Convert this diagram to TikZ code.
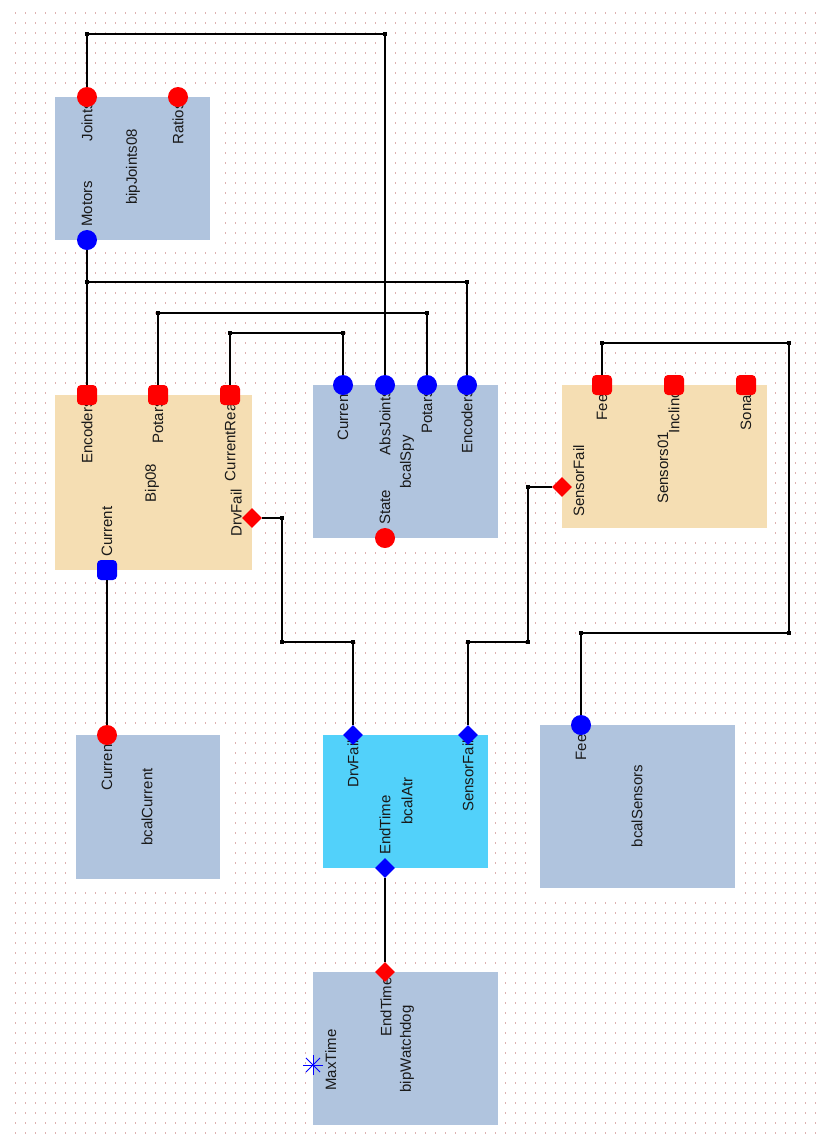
\documentclass[tikz,border=0pt]{standalone}
\usepackage{fontspec}
\setmainfont{Liberation Sans}
\usetikzlibrary{shapes.geometric}
\definecolor{griddot}{RGB}{222,178,178}
\definecolor{steel}{RGB}{176,196,222}
\definecolor{wheat}{RGB}{245,222,179}
\definecolor{skyatr}{RGB}{82,209,250}

\begin{document}
\begin{tikzpicture}[
    x=10pt, y=-10pt,
    every node/.style={font=\fontsize{15}{17}\selectfont, inner sep=0pt},
    block/.style={rectangle, preaction={draw=white, line width=12pt}},
    lbl/.style={rotate=90, text=black!90},
    portc/.style={circle, minimum size=20pt},
    ports/.style={rectangle, rounded corners=4pt, minimum size=20pt},
    portd/.style={diamond, aspect=1, minimum size=20pt},
    wire/.style={line width=1.2pt},
    jdot/.style={rectangle, fill=black, minimum size=3.5pt}
]

\useasboundingbox (0,0) rectangle (81.9,114.1);

% dotted grid
\foreach \gy in {0,...,112}
    \draw[griddot, line width=1.3pt, dash pattern=on 1.3pt off 8.7pt] (1.5,1.3+\gy) -- (81.6,1.3+\gy);

% Blocks
\node[block, fill=steel, minimum width=155pt, minimum height=143pt] (joints) at (13.25,16.85) {};
\node[block, fill=wheat, minimum width=197pt, minimum height=175pt] (bip) at (15.35,48.25) {};
\node[block, fill=steel, minimum width=185pt, minimum height=153pt] (spy) at (40.55,46.15) {};
\node[block, fill=wheat, minimum width=205pt, minimum height=143pt] (sens) at (66.45,45.65) {};
\node[block, fill=steel, minimum width=144pt, minimum height=144pt] (cur) at (14.8,80.7) {};
\node[block, fill=skyatr, minimum width=165pt, minimum height=133pt] (atr) at (40.55,80.15) {};
\node[block, fill=steel, minimum width=195pt, minimum height=163pt] (bsens) at (63.75,80.65) {};
\node[block, fill=steel, minimum width=185pt, minimum height=153pt] (dog) at (40.55,104.85) {};

% Block titles
\node[lbl] (tJoints) at (13.3,16.7) {bipJoints08};
\node[lbl] (tBip) at (15.2,48.3) {Bip08};
\node[lbl] (tSpy) at (40.7,46.2) {bcalSpy};
\node[lbl] (tSens) at (66.3,46.8) {Sensors01};
\node[lbl] (tCur) at (14.7,80.7) {bcalCurrent};
\node[lbl] (tAtr) at (40.7,80.1) {bcalAtr};
\node[lbl] (tBsens) at (63.7,80.6) {bcalSensors};
\node[lbl] (tDog) at (40.7,104.9) {bipWatchdog};

% Port labels - top side
\node[lbl, anchor=east] (lJoints) at (8.7,10.2) {Joints};
\node[lbl, anchor=east] (lRatios) at (17.8,10.2) {Ratios};
\node[lbl, anchor=east] (lEnc) at (8.7,40.0) {Encoders};
\node[lbl, anchor=east] (lPot) at (15.8,40.0) {Potars};
\node[lbl, anchor=east] (lCurRd) at (23.0,39.5) {CurrentRead};
\node[lbl, anchor=east] (lsCur) at (34.3,39.0) {Current};
\node[lbl, anchor=east] (lsAbs) at (38.5,39.0) {AbsJoints};
\node[lbl, anchor=east] (lsPot) at (42.7,39.0) {Potars};
\node[lbl, anchor=east] (lsEnc) at (46.7,39.0) {Encoders};
\node[lbl, anchor=east] (lnFeet) at (60.2,39.0) {Feet};
\node[lbl, anchor=east] (lnInc) at (67.4,39.0) {Inclino};
\node[lbl, anchor=east] (lnSon) at (74.6,39.0) {Sonar};
\node[lbl, anchor=east] (lcCur) at (10.7,74.0) {Current};
\node[lbl, anchor=east] (laDrv) at (35.3,74.0) {DrvFail};
\node[lbl, anchor=east] (laSen) at (46.8,74.0) {SensorFail};
\node[lbl, anchor=east] (leFeet) at (58.1,73.0) {Feet};
\node[lbl, anchor=east] (lwEnd) at (38.6,97.7) {EndTime};
% bottom side
\node[lbl, anchor=west] (lMotors) at (8.7,22.7) {Motors};
\node[lbl, anchor=west] (lbCur) at (10.7,55.7) {Current};
\node[lbl, anchor=west] (lState) at (38.5,52.5) {State};
\node[lbl, anchor=west] (laEnd) at (38.5,85.5) {EndTime};
% left / right side
\node[lbl, anchor=south] (lbDrv) at (24.2,51.3) {DrvFail};
\node[lbl, anchor=north] (lnFail) at (57.3,48.1) {SensorFail};
\node[lbl, anchor=north] (lMax) at (32.5,106.0) {MaxTime};

% Ports
\node[portc, fill=red] (jJoints) at (8.7,9.7) {};
\node[portc, fill=red] (jRatios) at (17.8,9.7) {};
\node[portc, fill=blue] (jMotors) at (8.7,24.0) {};
\node[ports, fill=red] (bEnc) at (8.7,39.5) {};
\node[ports, fill=red] (bPot) at (15.8,39.5) {};
\node[ports, fill=red] (bCurRd) at (23.0,39.5) {};
\node[ports, fill=blue] (bCur) at (10.7,57.0) {};
\node[portd, fill=red] (bDrv) at (25.2,51.8) {};
\node[portc, fill=blue] (sCur) at (34.3,38.5) {};
\node[portc, fill=blue] (sAbs) at (38.5,38.5) {};
\node[portc, fill=blue] (sPot) at (42.7,38.5) {};
\node[portc, fill=blue] (sEnc) at (46.7,38.5) {};
\node[portc, fill=red] (sState) at (38.5,53.8) {};
\node[ports, fill=red] (nFeet) at (60.2,38.5) {};
\node[ports, fill=red] (nInc) at (67.4,38.5) {};
\node[ports, fill=red] (nSon) at (74.6,38.5) {};
\node[portd, fill=red] (nFail) at (56.2,48.7) {};
\node[portc, fill=red] (cCur) at (10.7,73.5) {};
\node[portd, fill=blue] (aDrv) at (35.3,73.5) {};
\node[portd, fill=blue] (aSen) at (46.8,73.5) {};
\node[portd, fill=blue] (aEnd) at (38.5,86.8) {};
\node[portc, fill=blue] (eFeet) at (58.1,72.5) {};
\node[portd, fill=red] (wEnd) at (38.5,97.2) {};
\coordinate (wMax) at (31.3,106.5);
\foreach \a in {0,45,90,135}
    \draw[blue, line width=0.9pt] (wMax) +(\a:1) -- +(\a+180:1);

% Bends
\coordinate (k1) at (8.7,3.4);
\coordinate (k2) at (38.5,3.4);
\coordinate (k3) at (8.7,28.2);
\coordinate (k4) at (46.7,28.2);
\coordinate (k5) at (15.8,31.3);
\coordinate (k6) at (42.7,31.3);
\coordinate (k7) at (23.0,33.3);
\coordinate (k8) at (34.3,33.3);
\coordinate (k9) at (28.2,51.8);
\coordinate (k10) at (28.2,64.2);
\coordinate (k11) at (35.3,64.2);
\coordinate (k12) at (52.8,48.7);
\coordinate (k13) at (52.8,64.2);
\coordinate (k14) at (46.8,64.2);
\coordinate (k15) at (60.2,34.3);
\coordinate (k16) at (78.9,34.3);
\coordinate (k17) at (78.9,63.3);
\coordinate (k18) at (58.1,63.3);

% Wires
\draw[wire] (jJoints) -- (k1) -- (k2) -- (sAbs);
\draw[wire] (jMotors) -- (bEnc);
\draw[wire] (k3) -- (k4) -- (sEnc);
\draw[wire] (bPot) -- (k5) -- (k6) -- (sPot);
\draw[wire] (bCurRd) -- (k7) -- (k8) -- (sCur);
\draw[wire] (bDrv) -- (k9) -- (k10) -- (k11) -- (aDrv);
\draw[wire] (nFail) -- (k12) -- (k13) -- (k14) -- (aSen);
\draw[wire] (nFeet) -- (k15) -- (k16) -- (k17) -- (k18) -- (eFeet);
\draw[wire] (bCur) -- (cCur);
\draw[wire] (aEnd) -- (wEnd);

\foreach \k in {k1,k2,k3,k4,k5,k6,k7,k8,k9,k10,k11,k12,k13,k14,k15,k16,k17,k18}
    \node[jdot] (d\k) at (\k) {};

\end{tikzpicture}
\end{document}
